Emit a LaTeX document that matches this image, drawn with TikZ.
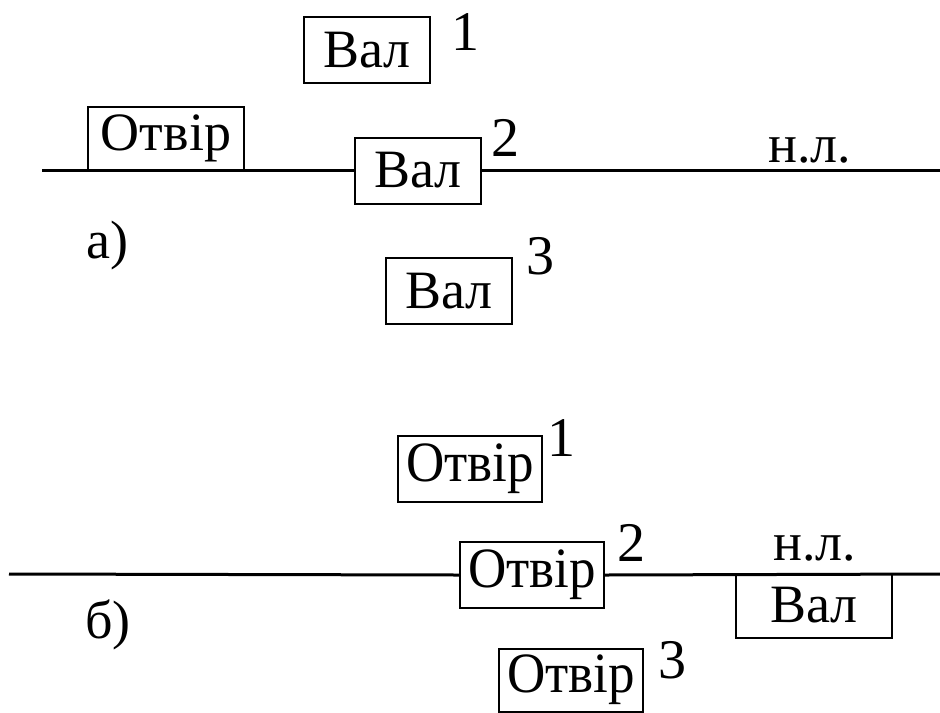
\documentclass[tikz,border=0pt]{standalone}
\usepackage{fontspec}
\setmainfont{Liberation Serif}
\newfontfamily\narrowserif[FakeStretch=0.93]{Liberation Serif}
\usetikzlibrary{positioning}

\begin{document}
\begin{tikzpicture}[x=0.5pt, y=-0.5pt,
  part/.style={draw, fill=white, line width=1pt, inner sep=0pt,
               minimum width=63pt, minimum height=33pt,
               font=\fontsize{27}{29}\selectfont},
  wide/.style={part, minimum width=72pt,
               font=\narrowserif\fontsize{28.5}{30}\selectfont},
  num/.style={font=\fontsize{28}{30}\selectfont, inner sep=0pt},
  lbl/.style={font=\fontsize{27}{29}\selectfont, inner sep=0pt},
  axis/.style={line width=1.5pt},
]
\useasboundingbox (0,0) rectangle (940,712);

% ---- а) ----
\coordinate (aL) at (42,170.5);
\coordinate (aR) at (940,170.5);
\node[part] (v1) at (367,50) {Вал};
\node[part, minimum width=78pt, minimum height=31.5pt] (ot) at (166,138.5) {Отвір};
\node[part] (v2) at (418,170.5) {Вал};
\node[part] (v3) at (449,291) {Вал};
\draw[axis] (aL) -- (v2.west);
\draw[axis] (v2.east) -- (aR);

\node[num] at (465,32) {1};
\node[num] at (505,138) {2};
\node[num] at (540,256) {3};
\node[lbl] at (810,150) {н.л.};
\node[lbl] at (107,246) {а)};

% ---- б) ----
\coordinate (bL) at (9,574);
\coordinate (bR) at (940,574);
\node[wide] (o1) at (470,469) {Отвір};
\node[wide] (o2) at (532,575) {Отвір};
\node[wide, minimum height=31.5pt] (o3) at (571,680) {Отвір};
\node[part, minimum width=78pt, minimum height=32pt] (vb) at (814,605.5) {Вал};
\draw[axis] (bL) -- (o2.west);
\draw[axis] (o2.east) -- (bR);

\node[num] at (561,438) {1};
\node[num] at (631,543) {2};
\node[num] at (672,660) {3};
\node[lbl] at (815,548) {н.л.};
\node[lbl] at (108,625) {б)};

\end{tikzpicture}
\end{document}
